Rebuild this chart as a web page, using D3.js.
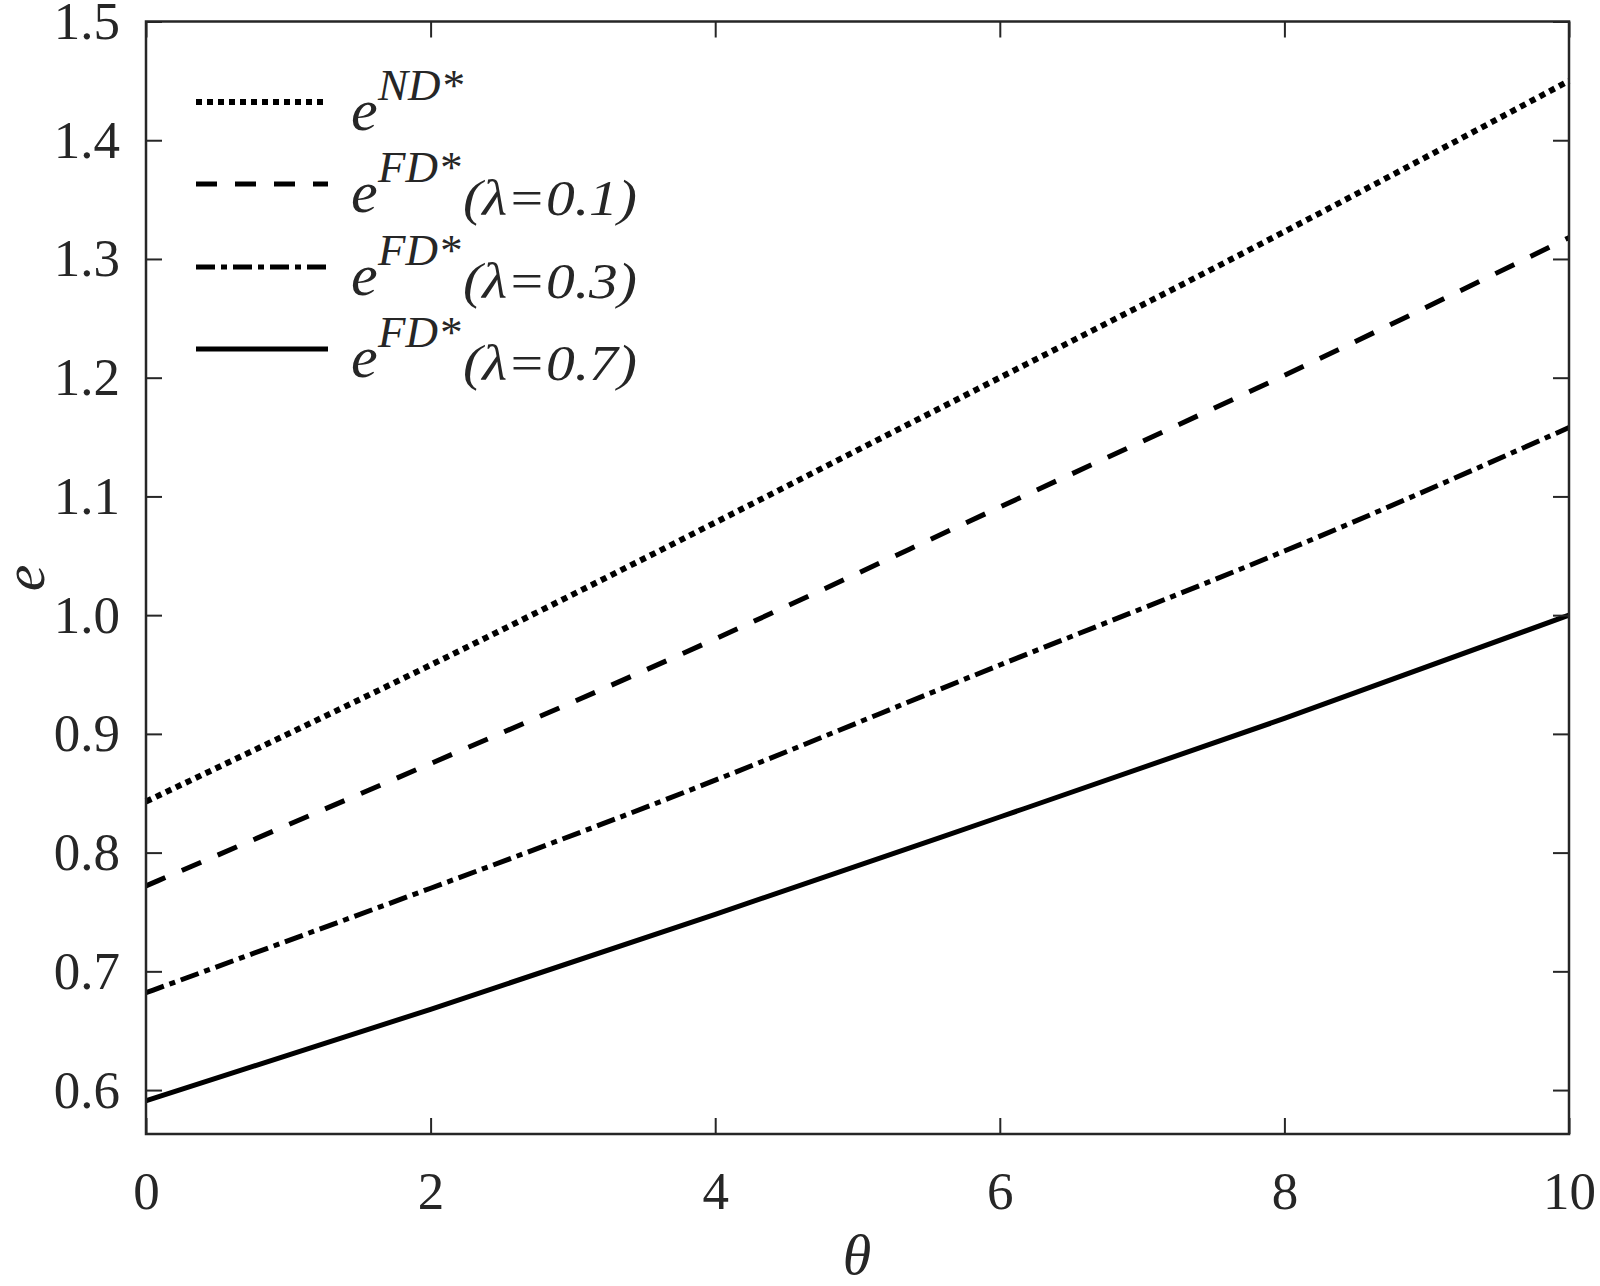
<!DOCTYPE html>
<html>
<head>
<meta charset="utf-8">
<script src="https://cdn.jsdelivr.net/npm/d3@7"></script>
<style>
  html, body { margin: 0; padding: 0; background: #fff; }
  svg { display: block; font-family: "Liberation Serif", "Times New Roman", serif; }
</style>
</head>
<body>
<div id="chart"></div>
<script>
// theta values read at the even ticks
const theta = [0, 2, 4, 6, 8, 10];

// curve values
const eND = [0.843, 0.958, 1.078, 1.200, 1.323, 1.450];
const eFD01 = [0.772, 0.875, 0.980, 1.091, 1.202, 1.318];
const eFD03 = [0.682, 0.770, 0.861, 0.958, 1.054, 1.158];
const eFD07 = [0.591, 0.668, 0.748, 0.830, 0.913, 1.000];

const xTicks = [0, 2, 4, 6, 8, 10];
const yTicks = [0.6, 0.7, 0.8, 0.9, 1.0, 1.1, 1.2, 1.3, 1.4, 1.5];

const seriesNames = ['ND*', 'FD*', 'FD*', 'FD*'];
const seriesLambda = ['', '(λ=0.1)', '(λ=0.3)', '(λ=0.7)'];

const W = 1600, H = 1286;
const plotL = 146, plotR = 1569, plotT = 21.5, plotB = 1134;
const ink = '#262626';
const serif = '"Liberation Serif", "Times New Roman", serif';

const svg = d3.select('#chart').append('svg')
  .attr('width', W)
  .attr('height', H);

const x = d3.scaleLinear().domain([0, 10]).range([plotL, plotR]);
const y = d3.scaleLinear().domain([0.563, 1.5]).range([plotB, plotT]);

// curves
const styles = [
  { dash: '6,5', width: 6 },
  { dash: '21,18', width: 5 },
  { dash: '19,6,6,6', width: 5 },
  { dash: null, width: 5 }
];
const allSeries = [eND, eFD01, eFD03, eFD07];

const line = d3.line()
  .x(d => x(d[0]))
  .y(d => y(d[1]))
  .curve(d3.curveNatural);

const curves = svg.append('g');
allSeries.forEach((vals, i) => {
  curves.append('path')
    .datum(theta.map((t, j) => [t, vals[j]]))
    .attr('d', line)
    .attr('fill', 'none')
    .attr('stroke', '#000')
    .attr('stroke-width', styles[i].width)
    .attr('stroke-dasharray', styles[i].dash)
    .attr('stroke-linecap', 'butt');
});

// axes with inward ticks on all four sides
const tickLen = 16;
const fontSize = 53;

const axB = svg.append('g').attr('transform', `translate(0,${plotB})`)
  .call(d3.axisBottom(x).tickValues(xTicks).tickSizeInner(-tickLen).tickSizeOuter(0).tickPadding(37).tickFormat(d3.format('d')));
const axT = svg.append('g').attr('transform', `translate(0,${plotT})`)
  .call(d3.axisTop(x).tickValues(xTicks).tickSizeInner(-tickLen).tickSizeOuter(0).tickFormat(''));
const axL = svg.append('g').attr('transform', `translate(${plotL},0)`)
  .call(d3.axisLeft(y).tickValues(yTicks).tickSizeInner(-tickLen).tickSizeOuter(0).tickPadding(26).tickFormat(d3.format('.1f')));
const axR = svg.append('g').attr('transform', `translate(${plotR},0)`)
  .call(d3.axisRight(y).tickValues(yTicks).tickSizeInner(-tickLen).tickSizeOuter(0).tickFormat(''));

[axB, axT, axL, axR].forEach(a => {
  a.select('.domain').remove();
  a.selectAll('line').attr('stroke', ink).attr('stroke-width', 2);
  a.selectAll('text')
    .attr('fill', ink)
    .style('font-family', serif)
    .style('font-size', fontSize + 'px');
});

// box frame
svg.append('rect')
  .attr('x', plotL).attr('y', plotT)
  .attr('width', plotR - plotL).attr('height', plotB - plotT)
  .attr('fill', 'none')
  .attr('stroke', ink)
  .attr('stroke-width', 2.5);

// axis titles
svg.append('text')
  .attr('transform', `translate(44,578) rotate(-90)`)
  .attr('text-anchor', 'middle')
  .style('font-style', 'italic')
  .style('font-size', '60px')
  .attr('fill', ink)
  .text('e');

svg.append('text')
  .attr('x', 857).attr('y', 1274)
  .attr('text-anchor', 'middle')
  .style('font-style', 'italic')
  .style('font-size', '58px')
  .attr('fill', ink)
  .text('θ');

// legend
const legend = svg.append('g');
const rowBase = [130, 212, 295, 377];
rowBase.forEach((b, i) => {
  const ly = b - 28;
  legend.append('line')
    .attr('x1', 196).attr('x2', 328)
    .attr('y1', ly).attr('y2', ly)
    .attr('stroke', '#000')
    .attr('stroke-width', styles[i].width)
    .attr('stroke-dasharray', styles[i].dash);

  legend.append('text')
    .attr('x', 351).attr('y', b)
    .style('font-style', 'italic')
    .style('font-size', '60px')
    .attr('fill', ink)
    .text('e');

  legend.append('text')
    .attr('x', 378).attr('y', b - 30)
    .style('font-style', 'italic')
    .style('font-size', '45px')
    .attr('fill', ink)
    .text(seriesNames[i]);

  if (seriesLambda[i]) {
    legend.append('text')
      .attr('x', 463).attr('y', b + 3)
      .style('font-style', 'italic')
      .style('font-size', '51px')
      .attr('textLength', 174)
      .attr('lengthAdjust', 'spacingAndGlyphs')
      .attr('fill', ink)
      .text(seriesLambda[i]);
  }
});
</script>
</body>
</html>
